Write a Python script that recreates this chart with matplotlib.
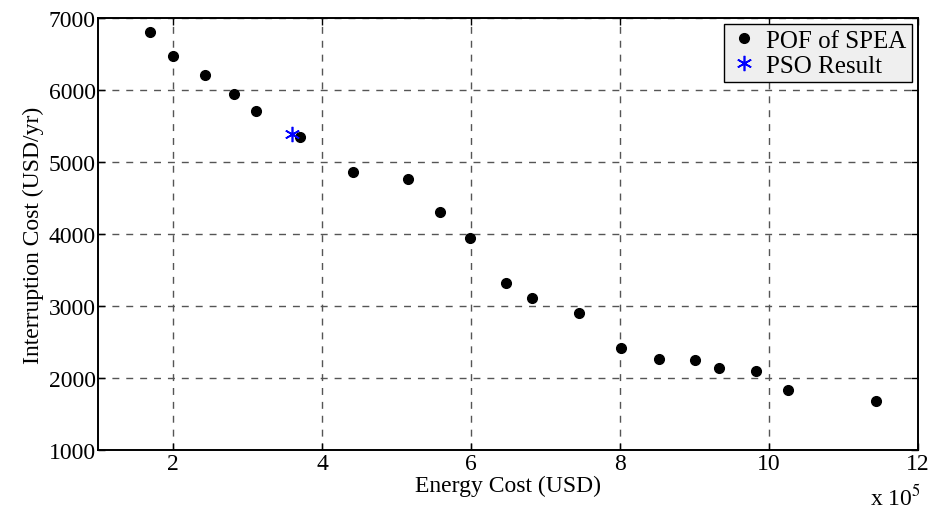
import matplotlib
matplotlib.use('Agg')
import matplotlib.pyplot as plt

# POF of SPEA (energy cost in units of 1e5 USD, interruption cost in USD/yr)
energy_cost = [1.69, 2.00, 2.43, 2.82, 3.12, 3.71, 4.41, 5.16, 5.58, 5.99,
               6.47, 6.82, 7.45, 8.02, 8.52, 9.01, 9.33, 9.83, 10.26, 11.44]
interruption_cost = [6801, 6468, 6215, 5942, 5710, 5351, 4857, 4768, 4306, 3940,
                     3319, 3107, 2903, 2412, 2268, 2246, 2139, 2101, 1833, 1685]

# PSO result
pso_energy = [3.60]
pso_interruption = [5385]

x_ticks = [2, 4, 6, 8, 10, 12]
y_ticks = [1000, 2000, 3000, 4000, 5000, 6000, 7000]

plt.rcParams['font.family'] = ['Liberation Serif', 'DejaVu Serif']
plt.rcParams['mathtext.fontset'] = 'stix'

fig = plt.figure(figsize=(9.35, 5.1), dpi=100)
ax = fig.add_axes([0.1053, 0.1157, 0.8765, 0.847])

ax.plot(energy_cost, interruption_cost, linestyle='none', marker='o',
        markersize=7, color='black', label='POF of SPEA')
ax.plot(pso_energy, pso_interruption, linestyle='none', marker=(6, 2, 0),
        markersize=11, markeredgewidth=1.2, color='#0000ff', label='PSO Result')

ax.set_xlim(1, 12)
ax.set_ylim(1000, 7000)
ax.set_xticks(x_ticks)
ax.set_yticks(y_ticks)
ax.tick_params(direction='in', length=5, width=1, top=True, right=True,
               labelsize=17, pad=2)

ax.grid(True, linestyle=(0, (5, 5)), color='#555555', linewidth=1)
for spine in ax.spines.values():
    spine.set_linewidth(1.4)

ax.set_xlabel('Energy Cost (USD)', fontsize=17, labelpad=1)
ax.set_ylabel('Interruption Cost (USD/yr)', fontsize=17, labelpad=3)

fig.text(0.985, 0.0, r'x 10$^{5}$', fontsize=17, ha='right', va='bottom')

leg = ax.legend(loc='upper right', fontsize=18, frameon=True, fancybox=False,
                borderaxespad=0.25, handletextpad=0.3, handlelength=1.2,
                borderpad=0.2, labelspacing=0.1)
leg.get_frame().set_facecolor('#efefef')
leg.get_frame().set_edgecolor('black')
leg.get_frame().set_linewidth(1)
leg.get_frame().set_alpha(1)

fig.savefig('out.png', dpi=100)
